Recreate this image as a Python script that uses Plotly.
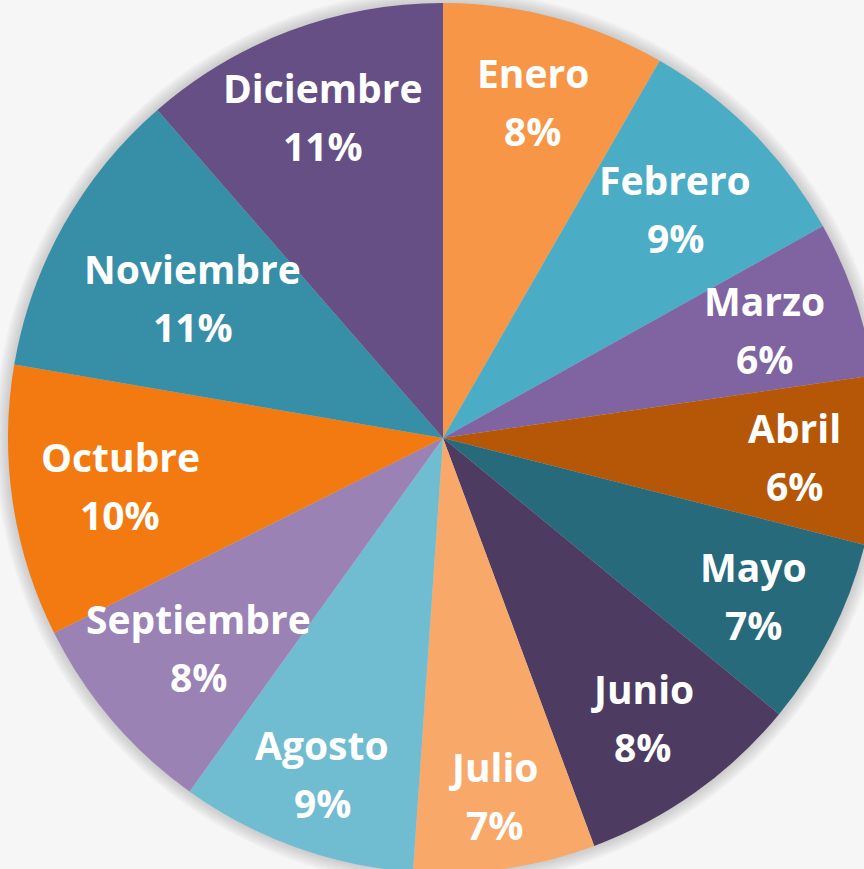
import math
import plotly.graph_objects as go

months = ["Enero", "Febrero", "Marzo", "Abril", "Mayo", "Junio", "Julio",
          "Agosto", "Septiembre", "Octubre", "Noviembre", "Diciembre"]
values = [8.3, 8.6, 5.8, 6.25, 7.0, 8.4, 6.75, 8.8, 7.7, 10.1, 10.9, 11.4]
colors = ["#F79646", "#4BACC6", "#8064A2", "#B65708", "#276A7C", "#4D3B62",
          "#F8A96A", "#70BCD1", "#9A82B5", "#F27A10", "#378EA7", "#654F84"]
label_r = [0.80, 0.75, 0.78, 0.81, 0.80, 0.79, 0.83, 0.82, 0.74, 0.75, 0.66, 0.79]

W, H = 886, 876
CX, CY = 443, 438          # centre in pixels (from top-left)
R = 435

fig = go.Figure(go.Pie(
    labels=months, values=values, sort=False, direction="clockwise",
    rotation=0, textinfo="none", hoverinfo="label+percent",
    marker=dict(colors=colors, line=dict(width=0)),
    domain=dict(x=[(CX - R) / W, (CX + R) / W],
                y=[(H - CY - R) / H, (H - CY + R) / H]),
    showlegend=False,
))

# soft shadow around the pie
shapes = []
for k in range(7):
    rr = R + 1 + k * 2
    shapes.append(dict(type="circle", xref="paper", yref="paper", layer="below",
                       x0=(CX - rr) / W, x1=(CX + rr) / W,
                       y0=(H - CY - rr) / H, y1=(H - CY + rr) / H,
                       fillcolor="rgba(120,120,120,0.05)", line=dict(width=0)))

total = sum(values)
annotations = []
cum = 0.0
font = dict(family="Open Sans", size=39, color="white")
for m, v, f in zip(months, values, label_r):
    mid = (cum + v / 2) / total * 2 * math.pi
    cum += v
    px = CX + f * R * math.sin(mid)
    py = (H - CY) + f * R * math.cos(mid)
    for txt, dy in ((m, 29), (f"{v / total:.0%}", -29)):
        annotations.append(dict(x=px / W, y=py / H, xref="paper", yref="paper",
                                text="<b>%s</b>" % txt, showarrow=False,
                                yshift=dy, font=font,
                                xanchor="center", yanchor="middle"))

fig.update_layout(width=W, height=H, autosize=False,
                  margin=dict(l=0, r=0, t=0, b=0),
                  paper_bgcolor="#f6f6f6", plot_bgcolor="#f6f6f6",
                  shapes=shapes, annotations=annotations)

fig.write_html("out.html", config={"displayModeBar": False},
               post_script="document.body.style.margin='0';"
                           "document.body.style.overflow='hidden';")
